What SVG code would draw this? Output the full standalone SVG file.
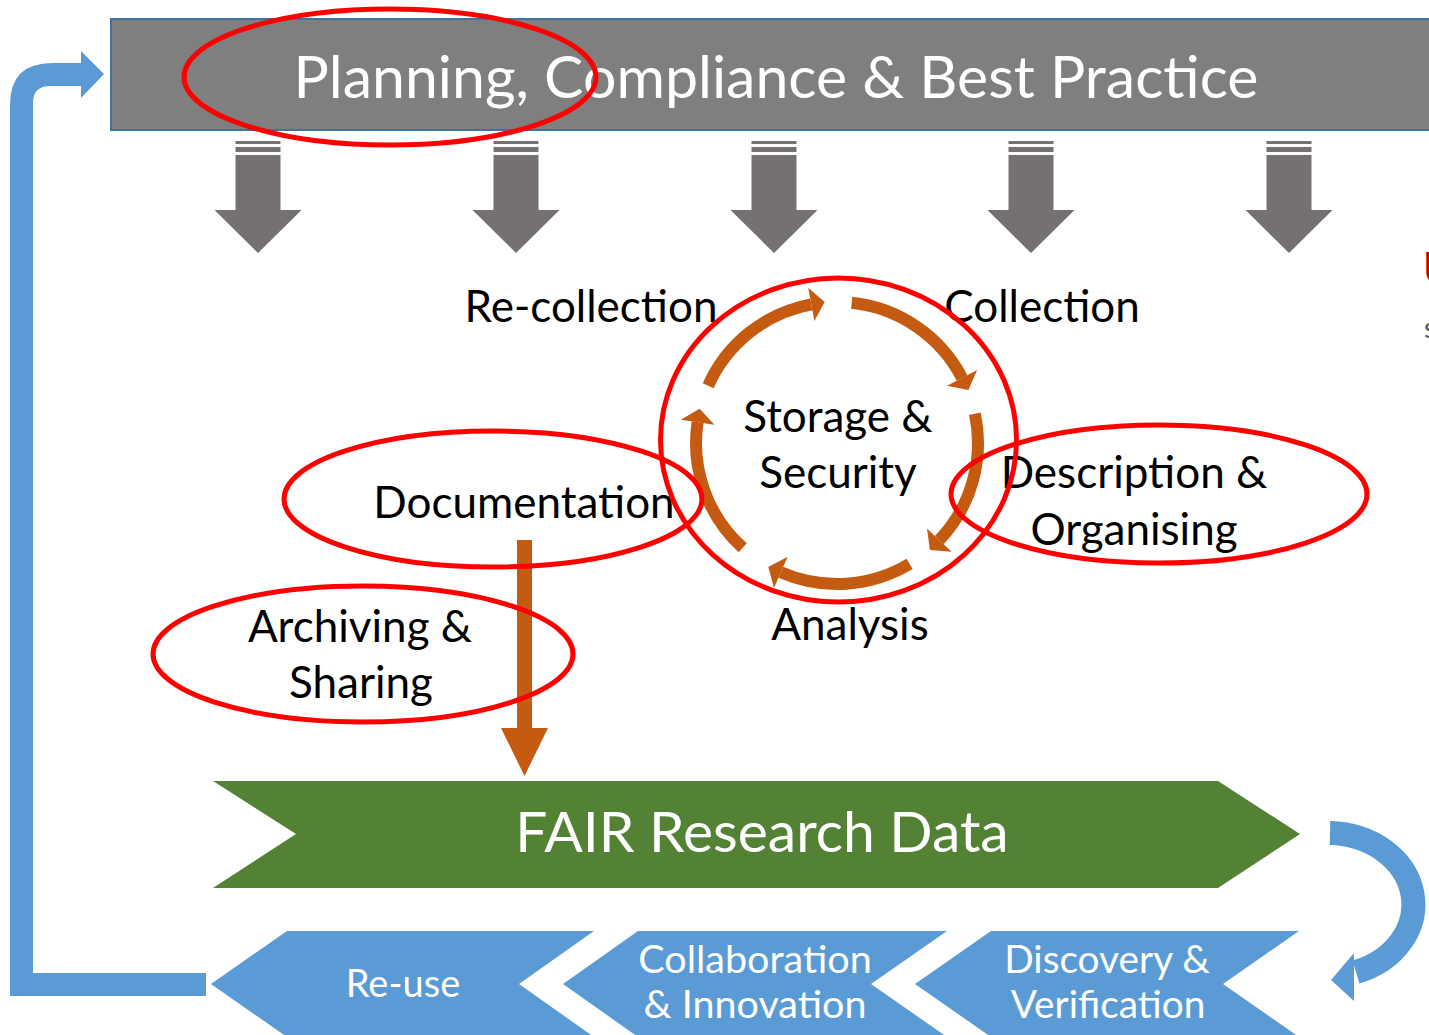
<svg xmlns="http://www.w3.org/2000/svg" xmlns:xlink="http://www.w3.org/1999/xlink" width="1429" height="1035" viewBox="0 0 1429 1035">
<style>
.lbl{font-family:Lato,"Liberation Sans",sans-serif;font-size:44px;fill:#000;text-anchor:middle}
.wht{font-family:Lato,"Liberation Sans",sans-serif;fill:#fff;text-anchor:middle}
.ring{fill:none;stroke:#ff0000;stroke-width:5}
.arc{fill:none;stroke:#c55a11;stroke-width:12;marker-end:url(#ahead)}
.blue{fill:#5b9bd5}
</style>
<defs>
<marker id="ahead" markerUnits="userSpaceOnUse" markerWidth="30" markerHeight="34" refX="0" refY="15" orient="auto" viewBox="0 0 14 30">
<path d="M0,0 L12,15 L0,30 Z" fill="#c55a11"/>
</marker>
<g id="down">
<rect x="-22.5" y="141" width="45" height="3" fill="#767171"/>
<rect x="-22.5" y="147" width="45" height="5" fill="#767171"/>
<polygon points="-22.5,155 22.5,155 22.5,210 43.5,210 0,253 -43.5,210 -22.5,210" fill="#767171"/>
</g>
</defs>

<g id="loop-arrow">
<path class="blue" d="M10,996 L206,996 L206,973 L33,973 L33,103 Q33,86 50,86 L81,86 L81,98 L104,74 L81,51 L81,63 L52,63 Q10,63 10,105 Z"/>
</g>

<g id="planning">
<rect x="111" y="19" width="1330" height="111" fill="#7f7f7f" stroke="#41719c" stroke-width="2"/>
<text class="wht" x="776" y="98" font-size="59">Planning, Compliance &amp; Best Practice</text>
</g>

<g id="down-arrows">
<use xlink:href="#down" x="258"/>
<use xlink:href="#down" x="516"/>
<use xlink:href="#down" x="774"/>
<use xlink:href="#down" x="1031"/>
<use xlink:href="#down" x="1289"/>
</g>

<g id="clipped-right">
<text x="1423" y="285" font-family="Lato,'Liberation Sans',sans-serif" font-size="46" font-weight="bold" fill="#c00000">U</text>
<text x="1424" y="338" font-family="Lato,'Liberation Sans',sans-serif" font-size="28" fill="#595959">s</text>
</g>

<g id="cycle">
<path class="arc" d="M851.7,302.8 A141,141 0 0 1 962.1,377.9"/>
<path class="arc" d="M974.9,413.7 A141,141 0 0 1 939.3,540.1"/>
<path class="arc" d="M909.6,563.9 A141,141 0 0 1 780.8,572.3"/>
<path class="arc" d="M742.7,547.8 A141,141 0 0 1 697.6,422.2"/>
<path class="arc" d="M708.2,385.7 A141,141 0 0 1 811.3,304.4"/>
</g>

<g id="labels">
<text class="lbl" x="591" y="322">Re-collection</text>
<text class="lbl" x="1042" y="322">Collection</text>
<text class="lbl" x="838" y="432">Storage &amp;</text>
<text class="lbl" x="838" y="488">Security</text>
<text class="lbl" x="524" y="518">Documentation</text>
<text class="lbl" x="1134" y="488">Description &amp;</text>
<text class="lbl" x="1134" y="545">Organising</text>
<text class="lbl" x="360" y="642">Archiving &amp;</text>
<text class="lbl" x="361" y="698">Sharing</text>
<text class="lbl" x="850" y="640">Analysis</text>
</g>

<g id="connectors">
<polygon points="517,540 532,540 532,728 548,728 524.5,776 501,728 517,728" fill="#c55a11"/>
<path d="M1330,833 A85.5,71.5 0 0 1 1356,972" fill="none" stroke="#5b9bd5" stroke-width="24"/>
<polygon class="blue" points="1354,953 1354,1001 1331,980"/>
</g>

<g id="fair">
<polygon points="213,781 1218,781 1300,834 1218,888 213,888 296,834" fill="#548235"/>
<text class="wht" x="762" y="852" font-size="57">FAIR Research Data</text>
</g>

<g id="reuse">
<polygon class="blue" points="211,984 287,931 594,931 519,984 594,1037 287,1037"/>
<text class="wht" x="403" y="997" font-size="38">Re-use</text>
</g>
<g id="collab">
<polygon class="blue" points="563,984 638,931 947,931 871,984 947,1037 638,1037"/>
<text class="wht" x="755" y="973" font-size="39.5">Collaboration</text>
<text class="wht" x="755" y="1018" font-size="39.5">&amp; Innovation</text>
</g>
<g id="discovery">
<polygon class="blue" points="915,984 991,931 1299,931 1223,984 1299,1037 991,1037"/>
<text class="wht" x="1107" y="973" font-size="38.8">Discovery &amp;</text>
<text class="wht" x="1108" y="1018" font-size="38.8">Verification</text>
</g>

<g id="highlights">
<ellipse class="ring" cx="390" cy="77" rx="206" ry="68" stroke-width="6"/>
<ellipse class="ring" cx="838.5" cy="440" rx="178" ry="162"/>
<ellipse class="ring" cx="493" cy="499" rx="209" ry="68"/>
<ellipse class="ring" cx="363" cy="654" rx="210" ry="68"/>
<ellipse class="ring" cx="1159" cy="494" rx="208" ry="69"/>
</g>
</svg>
